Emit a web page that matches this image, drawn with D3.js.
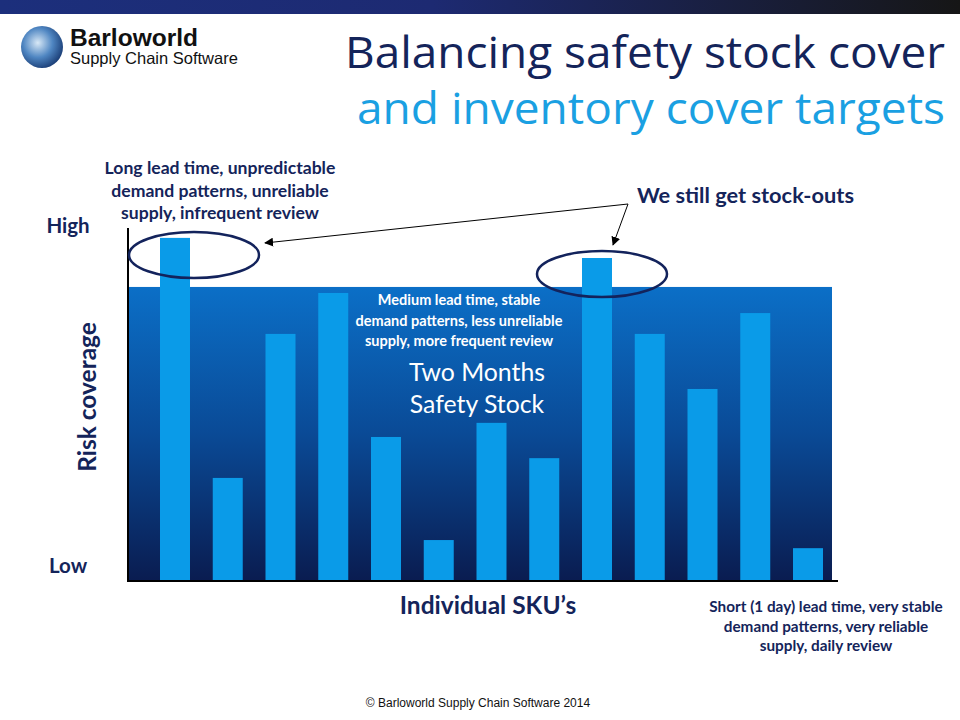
<!DOCTYPE html>
<html><head><meta charset="utf-8">
<script src="https://cdn.jsdelivr.net/npm/d3@7"></script>
<style>body{margin:0;background:#fff}svg{display:block}</style>
</head><body>
<svg id="c" width="960" height="720"></svg>
<script>
const skus = ["SKU1","SKU2","SKU3","SKU4","SKU5","SKU6","SKU7","SKU8","SKU9","SKU10","SKU11","SKU12","SKU13"];
const riskCoverage = [97.2, 29.2, 70.0, 81.6, 40.8, 11.6, 44.8, 34.8, 91.5, 70.0, 54.4, 75.9, 9.3];
const safetyStockLevel = 83.3;
const yTickLabels = ["Low", "High"];

const svg = d3.select("#c");
const defs = svg.append("defs");
const navy = "#14245a";

// top banner gradient
const tg = defs.append("linearGradient").attr("id","topg").attr("x1","0").attr("x2","1");
tg.append("stop").attr("offset","0").attr("stop-color","#1c2f7c");
tg.append("stop").attr("offset","0.45").attr("stop-color","#1d2a72");
tg.append("stop").attr("offset","1").attr("stop-color","#161616");
svg.append("rect").attr("x",0).attr("y",0).attr("width",960).attr("height",14).attr("fill","url(#topg)");

// logo
const gg = defs.append("radialGradient").attr("id","globe").attr("cx","0.4").attr("cy","0.4").attr("r","0.7");
gg.append("stop").attr("offset","0").attr("stop-color","#d8e8f6");
gg.append("stop").attr("offset","0.5").attr("stop-color","#4f86c2");
gg.append("stop").attr("offset","1").attr("stop-color","#0f2e66");
svg.append("circle").attr("cx",42).attr("cy",47).attr("r",21).attr("fill","url(#globe)");
svg.append("text").attr("x",70).attr("y",46).attr("font-family","Liberation Sans, Arial").attr("font-weight","bold").attr("font-size",24.5).attr("fill","#111").text("Barloworld");
svg.append("text").attr("x",70).attr("y",64).attr("font-family","Liberation Sans, Arial").attr("font-size",16.5).attr("fill","#111").text("Supply Chain Software");

// title
svg.append("text").attr("x",945).attr("y",68).attr("text-anchor","end").attr("font-family","Open Sans").attr("font-size",44)
  .attr("fill","#14245a").attr("textLength",600).attr("lengthAdjust","spacingAndGlyphs").text("Balancing safety stock cover");
svg.append("text").attr("x",945).attr("y",124).attr("text-anchor","end").attr("font-family","Open Sans").attr("font-size",44)
  .attr("fill","#1aa0e2").attr("textLength",588).attr("lengthAdjust","spacingAndGlyphs").text("and inventory cover targets");

// scales
const x0 = 128, x1 = 838, yBase = 581, yTop = 228;
const x = d3.scaleBand().domain(skus).range([137.25, 845.75]).padding(0.4313);
const y = d3.scaleLinear().domain([0,100]).range([yBase, yTop]);

// safety stock band
const bg = defs.append("linearGradient").attr("id","bgg").attr("x1","0").attr("x2","0").attr("y1","0").attr("y2","1");
bg.append("stop").attr("offset","0").attr("stop-color","#0b6fc7");
bg.append("stop").attr("offset","0.5").attr("stop-color","#0a4a96");
bg.append("stop").attr("offset","1").attr("stop-color","#0a1c50");
svg.append("rect").attr("x",x0).attr("y",y(safetyStockLevel)).attr("width",832-x0).attr("height",yBase-y(safetyStockLevel)).attr("fill","url(#bgg)");

// bars
svg.append("g").selectAll("rect").data(skus).join("rect")
  .attr("x",d=>x(d)).attr("width",x.bandwidth())
  .attr("y",(d,i)=>y(riskCoverage[i])).attr("height",(d,i)=>yBase-y(riskCoverage[i]))
  .attr("fill","#0a9be8");

// axes
svg.append("line").attr("x1",x0).attr("x2",x0).attr("y1",yTop).attr("y2",yBase+1).attr("stroke","#000").attr("stroke-width",2);
svg.append("line").attr("x1",x0-1).attr("x2",x1).attr("y1",yBase).attr("y2",yBase).attr("stroke","#000").attr("stroke-width",2);

const fb = "Lato";
svg.append("text").attr("x",68).attr("y",233).attr("text-anchor","middle").attr("font-family",fb).attr("font-weight","bold").attr("font-size",20.5).attr("fill",navy).text(yTickLabels[1]);
svg.append("text").attr("x",68).attr("y",573).attr("text-anchor","middle").attr("font-family",fb).attr("font-weight","bold").attr("font-size",20.5).attr("fill",navy).text(yTickLabels[0]);
svg.append("text").attr("transform","translate(96,397) rotate(-90)").attr("text-anchor","middle").attr("font-family",fb).attr("font-weight","bold").attr("font-size",24.5).attr("fill",navy).text("Risk coverage");
svg.append("text").attr("x",488).attr("y",614).attr("text-anchor","middle").attr("font-family",fb).attr("font-weight","bold").attr("font-size",24.5).attr("fill",navy).text("Individual SKU’s");

// ellipses around highest bars
const ell = [{i:0, dx:19, cy:255},{i:8, dx:5, cy:274}];
svg.append("g").selectAll("ellipse").data(ell).join("ellipse")
  .attr("cx",d=>x(skus[d.i])+x.bandwidth()/2+d.dx).attr("cy",d=>d.cy).attr("rx",65).attr("ry",23)
  .attr("fill","none").attr("stroke","#13235c").attr("stroke-width",2.5);

// arrows
defs.append("marker").attr("id","ah").attr("viewBox","0 0 10 10").attr("refX",9).attr("refY",5).attr("markerWidth",9).attr("markerHeight",9).attr("orient","auto").attr("markerUnits","userSpaceOnUse")
  .append("path").attr("d","M0,0 L10,5 L0,10 Z").attr("fill","#000");
svg.append("line").attr("x1",628).attr("y1",204).attr("x2",265).attr("y2",243).attr("stroke","#000").attr("stroke-width",1).attr("marker-end","url(#ah)");
svg.append("line").attr("x1",628).attr("y1",204).attr("x2",613).attr("y2",245).attr("stroke","#000").attr("stroke-width",1).attr("marker-end","url(#ah)");

function lines(xc, y0, dy, arr, size, color, weight){
  const t = svg.append("text").attr("text-anchor","middle").attr("font-family",fb).attr("font-weight",weight).attr("font-size",size).attr("fill",color);
  arr.forEach((s,k)=>t.append("tspan").attr("x",xc).attr("y",y0+k*dy).text(s));
}
lines(220, 174, 22.5, ["Long lead time, unpredictable","demand patterns, unreliable","supply, infrequent review"], 17.6, navy, "bold");
svg.append("text").attr("x",637).attr("y",203).attr("font-family",fb).attr("font-weight","bold").attr("font-size",21.8).attr("fill",navy).text("We still get stock-outs");
lines(459, 305, 20.5, ["Medium lead time, stable","demand patterns, less unreliable","supply, more frequent review"], 14.5, "#fff", "bold");
lines(477, 381, 32, ["Two Months","Safety Stock"], 24.8, "#fff", "normal");
lines(826, 612, 19.5, ["Short (1 day) lead time, very stable","demand patterns, very reliable","supply, daily review"], 15.3, navy, "bold");

svg.append("text").attr("x",478).attr("y",707).attr("text-anchor","middle").attr("font-family","Liberation Sans, Arial").attr("font-size",12).attr("fill","#111").text("© Barloworld Supply Chain Software 2014");
</script>
</body></html>
